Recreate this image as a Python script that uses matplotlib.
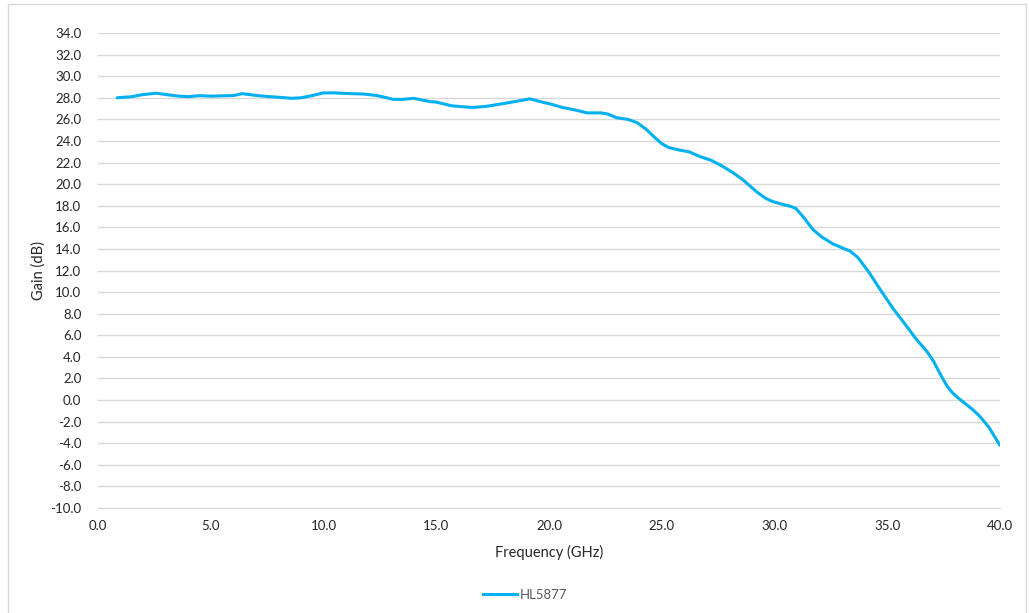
import matplotlib.pyplot as plt
from matplotlib.patches import Rectangle
from matplotlib.lines import Line2D

freq_ghz = [0.85, 1.5, 2.0, 2.6, 3.0, 3.6, 4.0, 4.5, 5.0, 5.5, 6.0, 6.4, 7.0, 7.5,
            8.0, 8.6, 9.0, 9.5, 10.0, 10.5, 11.0, 11.75, 12.4, 13.1, 13.5, 14.0,
            14.7, 15.0, 15.7, 16.6, 17.2, 17.8, 18.5, 19.15, 19.7, 20.1, 20.6,
            21.2, 21.7, 22.3, 22.6, 23.0, 23.5, 23.9, 24.3, 24.7, 25.0, 25.3,
            25.8, 26.2, 26.7, 27.2, 27.7, 28.2, 28.6, 29.2, 29.6, 29.9, 30.4,
            30.7, 30.95, 31.3, 31.7, 32.1, 32.6, 33.0, 33.35, 33.7, 34.2, 34.7,
            35.25, 35.8, 36.3, 36.76, 37.05, 37.35, 37.65, 37.9, 38.2, 38.5,
            38.8, 39.1, 39.5, 40.0]
gain_db = [28.0, 28.1, 28.3, 28.42, 28.3, 28.15, 28.1, 28.2, 28.15, 28.18, 28.2,
           28.38, 28.22, 28.12, 28.05, 27.95, 28.0, 28.2, 28.45, 28.45, 28.4,
           28.35, 28.2, 27.85, 27.85, 27.95, 27.65, 27.6, 27.25, 27.1, 27.2,
           27.4, 27.65, 27.9, 27.6, 27.4, 27.1, 26.85, 26.6, 26.6, 26.5, 26.15,
           26.0, 25.7, 25.1, 24.3, 23.75, 23.4, 23.15, 23.0, 22.55, 22.2,
           21.65, 21.0, 20.4, 19.3, 18.7, 18.4, 18.1, 17.95, 17.75, 16.9, 15.8,
           15.1, 14.45, 14.1, 13.8, 13.2, 11.8, 10.2, 8.5, 7.0, 5.6, 4.5, 3.6,
           2.4, 1.3, 0.65, 0.1, -0.4, -0.9, -1.5, -2.5, -4.2]

x_ticks = [0, 5, 10, 15, 20, 25, 30, 35, 40]
y_ticks = list(range(-10, 35, 2))

grid_col = '#D9D9D9'
text_col = '#262626'
line_col = '#00B0F0'

plt.rcParams['font.family'] = ['Lato', 'DejaVu Sans']

fig = plt.figure(figsize=(10.29, 6.13), dpi=100)
ax = fig.add_axes([98 / 1029, 1 - 508 / 613, 902 / 1029, 475 / 613])

# chart border like Excel
fig.patches.append(Rectangle((8 / 1029, -0.01), 1018 / 1029, 1 - 4 / 613 + 0.01,
                             transform=fig.transFigure, fill=False,
                             edgecolor=grid_col, lw=1))

ax.plot(freq_ghz, gain_db, color=line_col, lw=2.2, solid_capstyle='round',
        solid_joinstyle='round')

ax.set_xlim(0, 40)
ax.set_ylim(-10, 34)
ax.set_xticks(x_ticks)
ax.set_xticklabels([f'{v:.1f}' for v in x_ticks])
ax.set_yticks(y_ticks)
ax.set_yticklabels([f'{v:.1f}' for v in y_ticks])
ax.grid(axis='y', color=grid_col, lw=1)
ax.set_axisbelow(True)
for s in ['top', 'right', 'left']:
    ax.spines[s].set_visible(False)
ax.spines['bottom'].set_color(grid_col)
ax.tick_params(length=0, labelsize=9.5, colors=text_col)
ax.tick_params(axis='y', pad=12)
ax.tick_params(axis='x', pad=9)

ax.set_xlabel('Frequency (GHz)', fontsize=10.5, color=text_col, labelpad=9)
ax.set_ylabel('Gain (dB)', fontsize=10.5, color=text_col, labelpad=3)

handle = Line2D([], [], color=line_col, lw=2.2)
fig.legend([handle], ['HL5877'], loc='center', bbox_to_anchor=(525 / 1029, 1 - 595 / 613),
           frameon=False, fontsize=9.5, labelcolor='#595959', handlelength=2.6,
           handletextpad=0.2)

plt.savefig('out.png', dpi=100)
